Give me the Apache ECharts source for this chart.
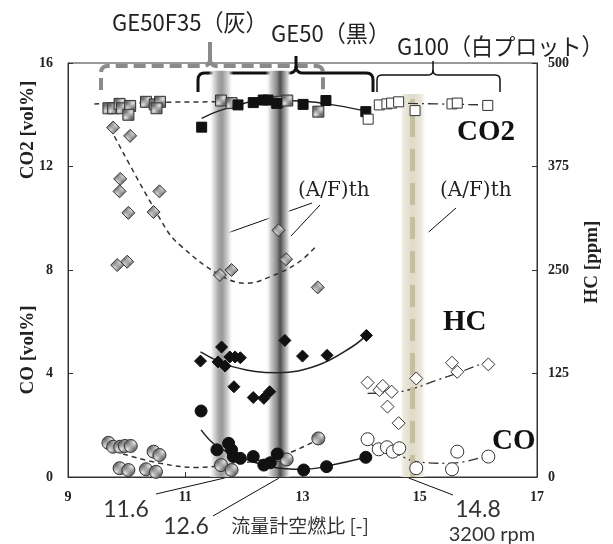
<!DOCTYPE html>
<html><head><meta charset="utf-8">
<script src="https://cdn.jsdelivr.net/npm/echarts/dist/echarts.min.js"></script>
<style>html,body{margin:0;padding:0;background:#fff}#c{width:613px;height:544px}</style>
</head><body><div id="c"></div>
<script>
// ---------- DATA ----------
const xTicks = [9, 11, 13, 15, 17];
const leftTicks = [0, 4, 8, 12, 16];
const rightTicks = [0, 125, 250, 375, 500];

// CO2 [vol%]
const co2_GE50F35 = [[9.69,14.25],[9.77,14.25],[9.88,14.42],[9.92,14.25],[10.06,14.34],[10.03,14.0],[10.33,14.5],[10.48,14.4],[10.57,14.5],[10.51,14.25],[11.61,14.55],[11.79,14.45],[12.58,14.5],[12.74,14.55],[13.27,14.12]];
const co2_GE50 = [[11.28,13.52],[11.90,14.38],[12.16,14.47],[12.33,14.57],[12.41,14.57],[12.56,14.44],[13.01,14.40],[13.40,14.55],[14.08,14.12]];
const co2_G100 = [[14.12,13.83],[14.31,14.38],[14.44,14.42],[14.52,14.45],[14.64,14.5],[14.92,14.16],[15.55,14.42],[15.64,14.45],[16.16,14.36]];
const co2Fit_GE50F35 = [[9.45,14.42],[10.5,14.48],[11.65,14.5]];
const co2Fit_GE50 = [[11.28,13.86],[11.54,14.12],[11.9,14.38],[12.35,14.58],[13.0,14.52],[13.4,14.43],[14.08,14.14]];
const co2Fit_G100 = [[14.8,14.44],[15.5,14.41],[16.13,14.38]];

// HC [ppm]
const hc_GE50F35 = [[9.77,422],[10.06,412],[9.89,360],[9.88,345],[10.56,345],[10.03,319],[10.46,320],[9.84,256],[10.01,260],[11.59,244],[11.79,250],[12.59,298],[12.72,263],[13.26,229]];
const hc_GE50 = [[11.26,140],[11.62,157],[11.56,139],[11.68,134],[11.76,145],[11.85,145],[11.94,144],[11.83,109],[12.16,96],[12.34,95],[12.44,103],[12.70,165],[13.0,146],[13.42,147],[14.09,171]];
const hc_G100 = [[14.11,114],[14.31,105],[14.37,110],[14.52,103],[14.45,85],[14.64,65],[14.94,119],[15.55,138],[15.64,127],[16.17,136]];
const hcFit_GE50F35 = [[9.72,421],[10.66,301],[10.91,280],[11.59,244],[12.05,234],[12.45,242],[12.91,258],[13.25,280]];
const hcFit_GE50 = [[11.26,151],[11.82,133],[12.58,126],[13.26,135],[13.84,157],[14.09,171]];
const hcFit_G100 = [[14.11,101],[14.54,102],[15.38,119],[16.17,140]];

// CO [vol%]
const co_GE50F35 = [[9.69,1.32],[9.77,1.17],[9.89,1.17],[9.97,1.20],[10.07,1.20],[10.46,0.98],[10.56,0.85],[9.88,0.34],[10.03,0.27],[10.33,0.30],[10.50,0.20],[11.61,0.46],[11.79,0.27],[12.59,0.85],[12.73,0.68],[13.27,1.49]];
const co_GE50 = [[11.27,2.55],[11.54,1.05],[11.74,1.30],[11.79,1.05],[11.82,0.79],[11.94,0.72],[12.16,0.79],[12.34,0.46],[12.45,0.55],[12.57,0.89],[13.02,0.27],[13.41,0.40],[14.08,0.76]];
const co_G100 = [[14.11,1.46],[14.30,1.07],[14.44,1.15],[14.54,0.98],[14.65,1.11],[14.94,0.34],[15.55,0.30],[15.64,0.98],[16.17,0.79]];
const coFit_GE50F35 = [[9.94,0.89],[10.57,0.53],[11.2,0.37],[11.59,0.43],[12.11,0.59],[12.67,0.85],[13.19,1.36]];
const coFit_GE50 = [[11.27,1.82],[11.55,1.17],[12.0,0.72],[12.45,0.40],[13.02,0.30],[13.5,0.46],[14.08,0.76]];
const coFit_G100 = [[14.18,1.24],[14.64,0.85],[14.95,0.59],[15.52,0.53],[16.17,0.85]];

// theoretical A/F bands
const afBands = [11.62, 12.6, 14.88];
const afLabels = ['11.6', '12.6', '14.8'];

// ---------- RENDER ----------
function hatch(){
  const c = document.createElement('canvas'); c.width = 4; c.height = 4;
  const g = c.getContext('2d');
  g.fillStyle = '#6e6e6e'; g.fillRect(0,0,4,4);
  g.strokeStyle = '#e8e8e8'; g.lineWidth = 1;
  g.beginPath(); g.moveTo(0,4); g.lineTo(4,0); g.moveTo(-1,1); g.lineTo(1,-1); g.moveTo(3,5); g.lineTo(5,3); g.stroke();
  return c;
}
const H = {image: hatch(), repeat: 'repeat'};
const serifB = '"Liberation Serif","Times New Roman",serif';
const chart = echarts.init(document.getElementById('c'), null, {renderer: 'canvas'});

function pts(name, data, yi, symbol, size, fill, border, bw){
  return {name, type:'scatter', yAxisIndex: yi, data, symbol, symbolSize: size, z: 5,
    itemStyle:{color: fill, borderColor: border, borderWidth: bw, opacity: 1}};
}
function fit(data, yi, dash, color, w){
  return {type:'line', yAxisIndex: yi, data, smooth: 0.4, symbol:'none', z: 4,
    lineStyle:{color: color, width: w, type: dash}, silent: true};
}
function bandGrad(stops){
  return {type:'linear', x:0, y:0, x2:1, y2:0, colorStops: stops};
}
const dashA = [5,4];
const dashDot = [10,4,2,4];

const axisLbl = {fontFamily: serifB, fontWeight:'bold', fontSize: 14, color:'#222'};
const option = {
  animation: false,
  backgroundColor: '#fff',
  grid: {left: 68, right: 76, top: 63, bottom: 67, show: true, borderColor:'#333', borderWidth: 1, backgroundColor:'transparent'},
  xAxis: {type:'value', min: xTicks[0], max: xTicks[xTicks.length-1], interval: 2,
    axisLine:{lineStyle:{color:'#333'}}, axisTick:{inside:true, length:5, lineStyle:{color:'#333'}},
    axisLabel: Object.assign({margin: 13}, axisLbl), splitLine:{show:false}},
  yAxis: [
    {type:'value', min: leftTicks[0], max: leftTicks[leftTicks.length-1], interval: 4, position:'left',
      axisLine:{show:true, lineStyle:{color:'#333'}}, axisTick:{show:true, inside:true, length:5, lineStyle:{color:'#333'}},
      axisLabel: Object.assign({margin: 15}, axisLbl), splitLine:{show:false}},
    {type:'value', min: rightTicks[0], max: rightTicks[rightTicks.length-1], interval: 125, position:'right',
      axisLine:{show:true, lineStyle:{color:'#333'}}, axisTick:{show:true, inside:true, length:5, lineStyle:{color:'#333'}},
      axisLabel: Object.assign({margin: 11}, axisLbl), splitLine:{show:false}}
  ],
  series: [
    {type:'line', data: [], z: 1, silent: true,
      markArea: {silent:true, data: [
        [{xAxis: afBands[0]-0.22, yAxis: 0, itemStyle:{color: bandGrad([{offset:0,color:'rgba(255,255,255,0)'},{offset:0.2,color:'#dcdcdc'},{offset:0.42,color:'#a4a4a4'},{offset:0.55,color:'#9a9a9a'},{offset:0.8,color:'#d8d8d8'},{offset:1,color:'rgba(255,255,255,0)'}])}}, {xAxis: afBands[0]+0.2, yAxis: 15.7}],
        [{xAxis: afBands[1]-0.23, yAxis: 0, itemStyle:{color: bandGrad([{offset:0,color:'rgba(255,255,255,0)'},{offset:0.2,color:'#cfcfcf'},{offset:0.45,color:'#8a8a8a'},{offset:0.58,color:'#4e4e4e'},{offset:0.72,color:'#8c8c8c'},{offset:0.88,color:'#d6d6d6'},{offset:1,color:'rgba(255,255,255,0)'}])}}, {xAxis: afBands[1]+0.2, yAxis: 15.7}],
        [{xAxis: afBands[2]-0.23, yAxis: 0, itemStyle:{color: bandGrad([{offset:0,color:'rgba(255,255,255,0)'},{offset:0.15,color:'#eceadf'},{offset:0.5,color:'#dedac6'},{offset:0.85,color:'#eceadf'},{offset:1,color:'rgba(255,255,255,0)'}])}}, {xAxis: afBands[2]+0.23, yAxis: 14.8}]
      ]},
      markLine: {silent:true, symbol:['none','none'], label:{show:false},
        lineStyle:{color:'#c3bf9f', width:5, type:[22,12]},
        data: [[{xAxis: afBands[2], yAxis: 0}, {xAxis: afBands[2], yAxis: 14.6}]]}
    },
    fit(co2Fit_GE50F35, 0, dashA, '#333', 1.5),
    fit(co2Fit_GE50, 0, 'solid', '#222', 1.5),
    fit(co2Fit_G100, 0, dashDot, '#333', 1.3),
    fit(hcFit_GE50F35, 1, dashA, '#333', 1.5),
    fit(hcFit_GE50, 1, 'solid', '#222', 1.5),
    fit(hcFit_G100, 1, dashDot, '#333', 1.3),
    fit(coFit_GE50F35, 0, dashA, '#333', 1.5),
    fit(coFit_GE50, 0, 'solid', '#222', 1.5),
    fit(coFit_G100, 0, dashDot, '#333', 1.3),
    pts('CO2 GE50F35', co2_GE50F35, 0, 'rect', 11, H, '#333', 1),
    pts('CO2 GE50', co2_GE50, 0, 'rect', 10, '#111', '#111', 1),
    pts('CO2 G100', co2_G100, 0, 'rect', 10, '#fff', '#333', 1),
    pts('HC GE50F35', hc_GE50F35, 1, 'diamond', 13, H, '#333', 1),
    pts('HC GE50', hc_GE50, 1, 'diamond', 12, '#111', '#111', 1),
    pts('HC G100', hc_G100, 1, 'diamond', 13, '#fff', '#333', 1),
    pts('CO GE50F35', co_GE50F35, 0, 'circle', 13, H, '#333', 1),
    pts('CO GE50', co_GE50, 0, 'circle', 12, '#111', '#111', 1),
    pts('CO G100', co_G100, 0, 'circle', 13, '#fff', '#333', 1)
  ]
};
chart.setOption(option);

// annotations
function px(x, y){ return chart.convertToPixel({xAxisIndex:0, yAxisIndex:0}, [x, y]); }
const bx = afBands.map(v => px(v, 0)[0]);
const y0 = px(9, 0)[1];
function corner(p0, c, p2, n){
  const out = [];
  for (let i = 1; i <= n; i++){
    const t = i / n, a = (1-t)*(1-t), b = 2*(1-t)*t, d = t*t;
    out.push([a*p0[0]+b*c[0]+d*p2[0], a*p0[1]+b*c[1]+d*p2[1]]);
  }
  return out;
}
function bracketParts(x1, x2, yTop, yBot, xs, ySp, r){
  const left = [[x1, yBot], [x1, yTop + r]]
    .concat(corner([x1, yTop + r], [x1, yTop], [x1 + r, yTop], 5))
    .concat([[xs - r, yTop]])
    .concat(corner([xs - r, yTop], [xs, yTop], [xs, yTop - r], 5))
    .concat([[xs, ySp]]);
  const right = [[xs, yTop - r]]
    .concat(corner([xs, yTop - r], [xs, yTop], [xs + r, yTop], 5))
    .concat([[x2 - r, yTop]])
    .concat(corner([x2 - r, yTop], [x2, yTop], [x2, yTop + r], 5))
    .concat([[x2, yBot]]);
  return [left, right];
}
const grayB = bracketParts(101, 323, 66, 90, 210, 42, 7);
const blackB = bracketParts(198, 373, 73, 92, 296, 56, 7);
const whiteB = bracketParts(377, 500, 75, 92, 433, 61, 5);

const jp = '"Noto Sans CJK JP","Noto Sans",sans-serif';
const lat = 'Lato,"Open Sans",sans-serif';
const afFont = 'normal 20px "DejaVu Serif",serif';
const bigFont = 'bold 29px ' + serifB;
const topFont = 'normal 23px ' + jp;
const g = [
  {type:'text', x:112, y:22, scaleX:0.96, style:{text:'GE50F35（灰）', font:topFont, fill:'#222', textVerticalAlign:'middle'}},
  {type:'text', x:271, y:33, scaleX:0.96, style:{text:'GE50（黒）', font:topFont, fill:'#222', textVerticalAlign:'middle'}},
  {type:'text', x:397, y:46, scaleX:0.96, style:{text:'G100（白プロット）', font:topFont, fill:'#222', textVerticalAlign:'middle'}},
  {type:'polyline', shape:{points:grayB[0]}, style:{fill:null, stroke:'#8a8a8a', lineWidth:4, lineDash:[12,6]}},
  {type:'polyline', shape:{points:grayB[1]}, style:{fill:null, stroke:'#8a8a8a', lineWidth:4, lineDash:[12,6]}},
  {type:'polyline', shape:{points:[[210,60],[210,42]]}, style:{fill:null, stroke:'#8a8a8a', lineWidth:4}},
  {type:'polyline', shape:{points:blackB[0]}, style:{fill:null, stroke:'#111', lineWidth:3}},
  {type:'polyline', shape:{points:blackB[1]}, style:{fill:null, stroke:'#111', lineWidth:3}},
  {type:'polyline', shape:{points:whiteB[0]}, style:{fill:null, stroke:'#111', lineWidth:1.5}},
  {type:'polyline', shape:{points:whiteB[1]}, style:{fill:null, stroke:'#111', lineWidth:1.5}},
  {type:'text', x:457, y:133, style:{text:'CO2', font:bigFont, fill:'#111', textVerticalAlign:'middle'}},
  {type:'text', x:443, y:323, style:{text:'HC', font:bigFont, fill:'#111', textVerticalAlign:'middle'}},
  {type:'text', x:492, y:442, style:{text:'CO', font:bigFont, fill:'#111', textVerticalAlign:'middle'}},
  {type:'text', x:298, y:191, style:{text:'(A/F)th', font:afFont, fill:'#222', textVerticalAlign:'middle'}},
  {type:'text', x:440, y:191, style:{text:'(A/F)th', font:afFont, fill:'#222', textVerticalAlign:'middle'}},
  {type:'polyline', shape:{points:[[312,203],[bx[0]+6,233]]}, style:{stroke:'#111', lineWidth:1}},
  {type:'polyline', shape:{points:[[320,205],[bx[1]+12,236]]}, style:{stroke:'#111', lineWidth:1}},
  {type:'polyline', shape:{points:[[456,208],[bx[2]+16,232]]}, style:{stroke:'#111', lineWidth:1}},
  {type:'text', x:126, y:510, style:{text:afLabels[0], font:'normal 23px '+lat, fill:'#333', textAlign:'center', textVerticalAlign:'middle'}},
  {type:'polyline', shape:{points:[[156,494],[bx[0]+3,y0+1]]}, style:{stroke:'#111', lineWidth:1}},
  {type:'text', x:186, y:527, style:{text:afLabels[1], font:'normal 23px '+lat, fill:'#333', textAlign:'center', textVerticalAlign:'middle'}},
  {type:'polyline', shape:{points:[[213,516],[bx[1],y0+1]]}, style:{stroke:'#111', lineWidth:1}},
  {type:'text', x:478, y:510, style:{text:afLabels[2], font:'normal 23px '+lat, fill:'#333', textAlign:'center', textVerticalAlign:'middle'}},
  {type:'polyline', shape:{points:[[453,495],[bx[2]-4,y0+1]]}, style:{stroke:'#111', lineWidth:1}},
  {type:'text', x:300, y:526, style:{text:'流量計空燃比 [-]', font:'normal 19px '+jp, fill:'#333', textAlign:'center', textVerticalAlign:'middle'}},
  {type:'text', x:492, y:535, style:{text:'3200 rpm', font:'normal 20px '+lat, fill:'#333', textAlign:'center', textVerticalAlign:'middle'}},
  {type:'text', x:28, y:130, rotation:Math.PI/2, style:{text:'CO2 [vol%]', font:'bold 19px '+serifB, fill:'#222', textAlign:'center', textVerticalAlign:'middle'}},
  {type:'text', x:28, y:350, rotation:Math.PI/2, style:{text:'CO [vol%]', font:'bold 19px '+serifB, fill:'#222', textAlign:'center', textVerticalAlign:'middle'}},
  {type:'text', x:592, y:262, rotation:Math.PI/2, style:{text:'HC [ppm]', font:'bold 19px '+serifB, fill:'#222', textAlign:'center', textVerticalAlign:'middle'}}
];
chart.setOption({graphic: g});
</script></body></html>
